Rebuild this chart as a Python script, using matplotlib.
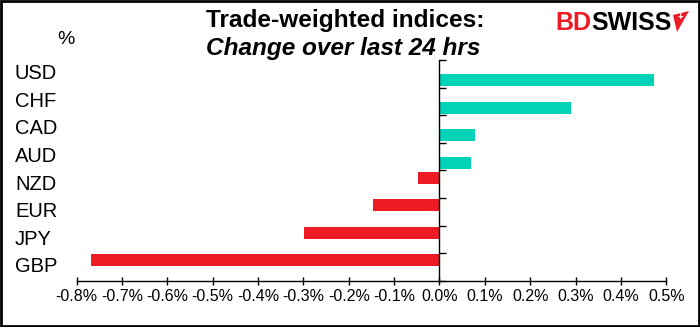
import numpy as np
import matplotlib
matplotlib.use("Agg")
import matplotlib.pyplot as plt
from matplotlib.transforms import blended_transform_factory
from matplotlib.patches import Rectangle, Polygon

plt.rcParams['font.family'] = ['Liberation Sans', 'DejaVu Sans']

# Trade-weighted index changes, % over the last 24 hours
categories = ["USD", "CHF", "CAD", "AUD", "NZD", "EUR", "JPY", "GBP"]
changes = [0.473, 0.289, 0.079, 0.069, -0.047, -0.147, -0.298, -0.769]
x_ticks = [-0.8, -0.7, -0.6, -0.5, -0.4, -0.3, -0.2, -0.1, 0.0, 0.1, 0.2, 0.3, 0.4, 0.5]

TEAL = "#00D3B7"
RED = "#ED1C24"

W, H = 700, 327
fig = plt.figure(figsize=(W / 100, H / 100), dpi=100)


def fx(x):
    return x / W


def fy(y):
    return 1 - y / H


ax = fig.add_axes([fx(76.5), fy(280.7), fx(666.3) - fx(76.5), fy(60) - fy(280.7)])

n = len(categories)
pos = np.arange(n)
vals = np.array(changes)
gains = np.where(vals > 0, vals, 0.0)
losses = np.where(vals < 0, vals, 0.0)
bar_h = 0.435
off = 0.2325
ax.barh(pos - off, losses, height=bar_h, color=RED, zorder=2)
ax.barh(pos + off, gains, height=bar_h, color=TEAL, zorder=2)

ax.set_xlim(-0.8, 0.5)
ax.set_ylim(n - 0.5, -0.5)

for s in ("top", "right"):
    ax.spines[s].set_visible(False)
ax.spines["left"].set_position(("data", 0))
ax.spines["left"].set_zorder(3)
ax.spines["left"].set_linewidth(1.0)
ax.spines["bottom"].set_linewidth(1.0)

ax.set_yticks(np.arange(n + 1) - 0.5)
ax.set_yticklabels([])
ax.tick_params(axis="y", direction="in", length=5.2, width=1.0)

ax.set_xticks(x_ticks)
ax.set_xticklabels([f"{t:.1f}%" for t in x_ticks], fontsize=11.5)
ax.tick_params(axis="x", direction="inout", length=5.8, width=1.0, pad=3)

# category labels at the left edge
tr = blended_transform_factory(fig.transFigure, ax.transData)
for i, c in enumerate(categories):
    ax.text(fx(15), i, c, transform=tr, ha="left", va="center", fontsize=14.5)

fig.text(fx(66), fy(39), "%", ha="center", va="center", fontsize=14)

# title
fig.text(fx(206), fy(21), "Trade-weighted indices:", ha="left", va="center",
         fontsize=17.6, fontweight="bold")
fig.text(fx(206), fy(48), "Change over last 24 hrs", ha="left", va="center",
         fontsize=17.6, fontweight="bold", fontstyle="italic")

# logo
t1 = fig.text(fx(555), fy(23), "BD", ha="left", va="center", fontsize=18,
              fontweight="bold", color=RED)
fig.canvas.draw()
bb = t1.get_window_extent()
fig.text(bb.x1 / W, fy(23), "SWISS", ha="left", va="center", fontsize=18,
         fontweight="bold", color="black")
icon = Polygon([[fx(673), fy(15)], [fx(689), fy(11)], [fx(677), fy(32)]],
               closed=True, transform=fig.transFigure, facecolor=RED, edgecolor="none")
fig.patches.append(icon)
fig.text(fx(680), fy(17), "+", ha="center", va="center", fontsize=7,
         fontweight="bold", color="white")

# outer frame
fig.patches.append(Rectangle((fx(1.2), fy(325.8)), fx(697.6), 1 - fy(324.6),
                             transform=fig.transFigure, fill=False,
                             edgecolor="black", linewidth=2.0))

fig.savefig("out.png", dpi=100)
